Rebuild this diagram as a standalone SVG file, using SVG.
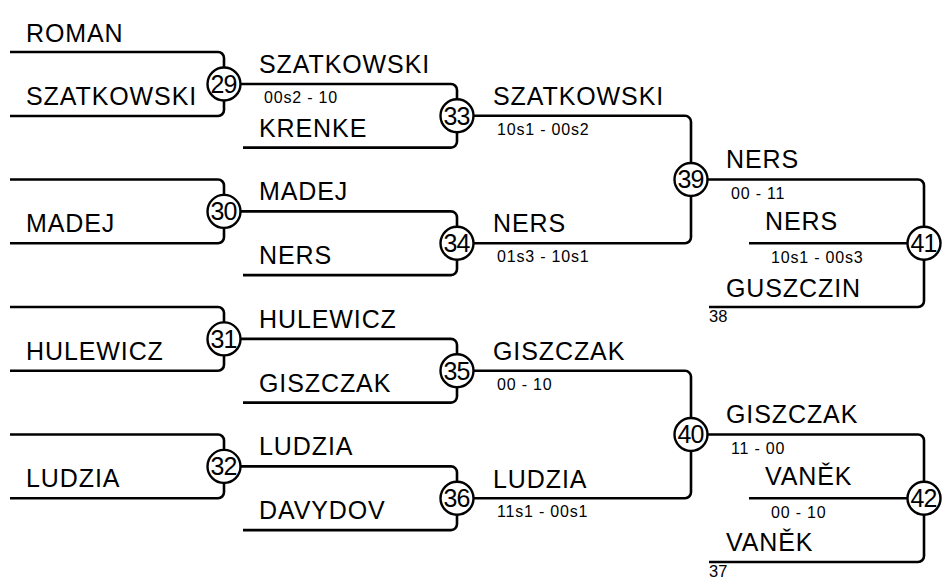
<svg xmlns="http://www.w3.org/2000/svg" width="946" height="584" viewBox="0 0 946 584">
<style>
.ln{fill:none;stroke:#000;stroke-width:2.6}
.c{fill:#fff;stroke:#000;stroke-width:2.4}
.nm{font-family:"Liberation Sans",Arial,sans-serif;font-size:25px;letter-spacing:0.9px;fill:#000}
.sc{font-family:"Liberation Sans",Arial,sans-serif;font-size:16px;letter-spacing:0.8px;fill:#000}
.num{font-family:"Liberation Sans",Arial,sans-serif;font-size:25px;letter-spacing:-1px;fill:#000;text-anchor:middle}
.sm{font-family:"Liberation Sans",Arial,sans-serif;font-size:16.5px;fill:#000}
</style>
<rect width="946" height="584" fill="#fff"/>
<g id="connectors">
<path class="ln" d="M10 52 H218 A6 6 0 0 1 224 58 V84 M10 116 H218 A6 6 0 0 0 224 110 V84"/>
<path class="ln" d="M10 179.5 H218 A6 6 0 0 1 224 185.5 V211.4 M10 243.3 H218 A6 6 0 0 0 224 237.3 V211.4"/>
<path class="ln" d="M10 307 H218 A6 6 0 0 1 224 313 V338.9 M10 370.8 H218 A6 6 0 0 0 224 364.8 V338.9"/>
<path class="ln" d="M10 434.5 H218 A6 6 0 0 1 224 440.5 V466.4 M10 498.3 H218 A6 6 0 0 0 224 492.3 V466.4"/>
<path class="ln" d="M224 84 H451 A6 6 0 0 1 457 90 V115.8 M243 147.6 H451 A6 6 0 0 0 457 141.6 V115.8"/>
<path class="ln" d="M224 211.4 H451 A6 6 0 0 1 457 217.4 V243.3 M243 275.1 H451 A6 6 0 0 0 457 269.1 V243.3"/>
<path class="ln" d="M224 338.9 H451 A6 6 0 0 1 457 344.9 V370.8 M243 402.6 H451 A6 6 0 0 0 457 396.6 V370.8"/>
<path class="ln" d="M224 466.4 H451 A6 6 0 0 1 457 472.4 V498.3 M243 530.1 H451 A6 6 0 0 0 457 524.1 V498.3"/>
<path class="ln" d="M457 115.8 H685 A6 6 0 0 1 691 121.8 V179.5 M457 243.3 H685 A6 6 0 0 0 691 237.3 V179.5"/>
<path class="ln" d="M457 370.8 H685 A6 6 0 0 1 691 376.8 V434.5 M457 498.3 H685 A6 6 0 0 0 691 492.3 V434.5"/>
<path class="ln" d="M691 179.5 H918 A6 6 0 0 1 924 185.5 V243.3 M709 307 H918 A6 6 0 0 0 924 301 V243.3 M749 243.3 H924"/>
<path class="ln" d="M691 434.5 H918 A6 6 0 0 1 924 440.5 V498.3 M709 562 H918 A6 6 0 0 0 924 556 V498.3 M749 498.3 H924"/>
</g>
<g id="m29"><circle class="c" cx="224" cy="84" r="16.5"/><text class="num" x="223.5" y="92.8">29</text></g>
<g id="m30"><circle class="c" cx="224" cy="211.4" r="16.5"/><text class="num" x="223.5" y="220.2">30</text></g>
<g id="m31"><circle class="c" cx="224" cy="338.9" r="16.5"/><text class="num" x="223.5" y="347.7">31</text></g>
<g id="m32"><circle class="c" cx="224" cy="466.4" r="16.5"/><text class="num" x="223.5" y="475.2">32</text></g>
<g id="m33"><circle class="c" cx="457" cy="115.8" r="16.5"/><text class="num" x="456.5" y="124.6">33</text></g>
<g id="m34"><circle class="c" cx="457" cy="243.3" r="16.5"/><text class="num" x="456.5" y="252.1">34</text></g>
<g id="m35"><circle class="c" cx="457" cy="370.8" r="16.5"/><text class="num" x="456.5" y="379.6">35</text></g>
<g id="m36"><circle class="c" cx="457" cy="498.3" r="16.5"/><text class="num" x="456.5" y="507.1">36</text></g>
<g id="m39"><circle class="c" cx="691" cy="179.5" r="16.5"/><text class="num" x="690.5" y="188.3">39</text></g>
<g id="m40"><circle class="c" cx="691" cy="434.5" r="16.5"/><text class="num" x="690.5" y="443.3">40</text></g>
<g id="m41"><circle class="c" cx="924" cy="243.3" r="16.5"/><text class="num" x="923.5" y="252.1">41</text></g>
<g id="m42"><circle class="c" cx="924" cy="498.3" r="16.5"/><text class="num" x="923.5" y="507.1">42</text></g>
<g id="labels">
<text class="nm" x="26" y="41.5">ROMAN</text>
<text class="nm" x="26" y="105">SZATKOWSKI</text>
<text class="nm" x="26" y="232">MADEJ</text>
<text class="nm" x="26" y="360">HULEWICZ</text>
<text class="nm" x="26" y="487">LUDZIA</text>
<text class="nm" x="259" y="73">SZATKOWSKI</text>
<text class="nm" x="259" y="136.6">KRENKE</text>
<text class="nm" x="259" y="200.4">MADEJ</text>
<text class="nm" x="259" y="264">NERS</text>
<text class="nm" x="259" y="328">HULEWICZ</text>
<text class="nm" x="259" y="391.6">GISZCZAK</text>
<text class="nm" x="259" y="455.4">LUDZIA</text>
<text class="nm" x="259" y="519">DAVYDOV</text>
<text class="nm" x="493" y="105">SZATKOWSKI</text>
<text class="nm" x="493" y="232">NERS</text>
<text class="nm" x="493" y="360">GISZCZAK</text>
<text class="nm" x="493" y="487.5">LUDZIA</text>
<text class="nm" x="726" y="168">NERS</text>
<text class="nm" x="765" y="230">NERS</text>
<text class="nm" x="726" y="296.5">GUSZCZIN</text>
<text class="nm" x="726" y="423">GISZCZAK</text>
<text class="nm" x="765" y="485">VANĚK</text>
<text class="nm" x="726" y="551">VANĚK</text>
<text class="sc" x="264" y="103">00s2 - 10</text>
<text class="sc" x="497" y="135">10s1 - 00s2</text>
<text class="sc" x="497" y="262">01s3 - 10s1</text>
<text class="sc" x="497" y="390">00 - 10</text>
<text class="sc" x="497" y="517">11s1 - 00s1</text>
<text class="sc" x="731" y="199">00 - 11</text>
<text class="sc" x="771" y="263">10s1 - 00s3</text>
<text class="sc" x="731" y="453.5">11 - 00</text>
<text class="sc" x="771" y="518">00 - 10</text>
<text class="sm" x="709" y="322">38</text>
<text class="sm" x="709" y="577">37</text>
</g>
</svg>
